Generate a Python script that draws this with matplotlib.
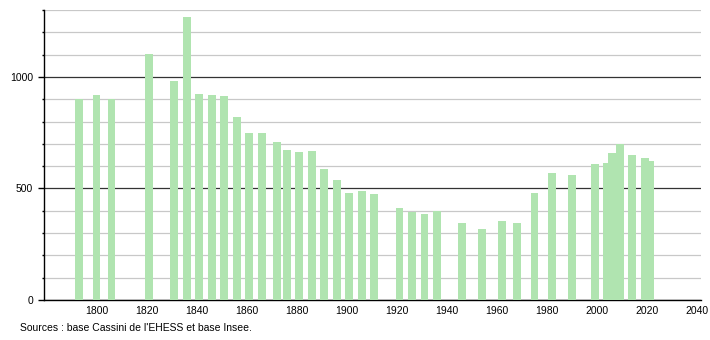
import numpy as np
import matplotlib.pyplot as plt
from matplotlib.ticker import MultipleLocator

plt.rcParams['font.family'] = ['Liberation Sans', 'DejaVu Sans']

annees = [1793, 1800, 1806, 1821, 1831, 1836, 1841, 1846, 1851, 1856,
          1861, 1866, 1872, 1876, 1881, 1886, 1891, 1896, 1901, 1906,
          1911, 1921, 1926, 1931, 1936, 1946, 1954, 1962, 1968, 1975,
          1982, 1990, 1999, 2004, 2006, 2009, 2014, 2019, 2021]
population = [901, 918, 901, 1102, 982, 1270, 922, 919, 915, 819,
              747, 747, 707, 673, 665, 668, 587, 538, 481, 489,
              475, 411, 393, 386, 399, 347, 317, 354, 344, 478,
              570, 561, 608, 616, 658, 700, 650, 635, 624]

xticks = list(range(1800, 2041, 20))
source = "Sources : base Cassini de l'EHESS et base Insee."

vert = '#b0e4b0'

fig = plt.figure(figsize=(7.1, 3.4), dpi=100)
ax = fig.add_axes([44/710, 40/340, 657/710, 290/340])

ax.bar(annees, population, width=3.1, color=vert, zorder=3)

ax.set_xlim(1779, 2041.5)
ax.set_ylim(0, 1300)
ax.set_xticks(xticks)
ax.set_yticks([0, 500, 1000])
ax.yaxis.set_minor_locator(MultipleLocator(100))

ax.grid(axis='y', which='minor', color='#c8c8c8', linewidth=0.9, zorder=1)
ax.grid(axis='y', which='major', color='#333333', linewidth=0.9, zorder=2)
ax.grid(axis='x', visible=False)

for s in ['top', 'right']:
    ax.spines[s].set_visible(False)
ax.spines['left'].set_linewidth(1.0)
ax.spines['bottom'].set_linewidth(1.0)

ax.tick_params(axis='x', length=0, pad=4, labelsize=7.5)
ax.tick_params(axis='y', which='major', length=4, width=1, pad=4, labelsize=7.5)
ax.tick_params(axis='y', which='minor', length=1.5, width=1)

fig.text(20/710, 1 - 328/340, source, fontsize=7.5, va='center', ha='left')

fig.savefig('out.png', dpi=100)
